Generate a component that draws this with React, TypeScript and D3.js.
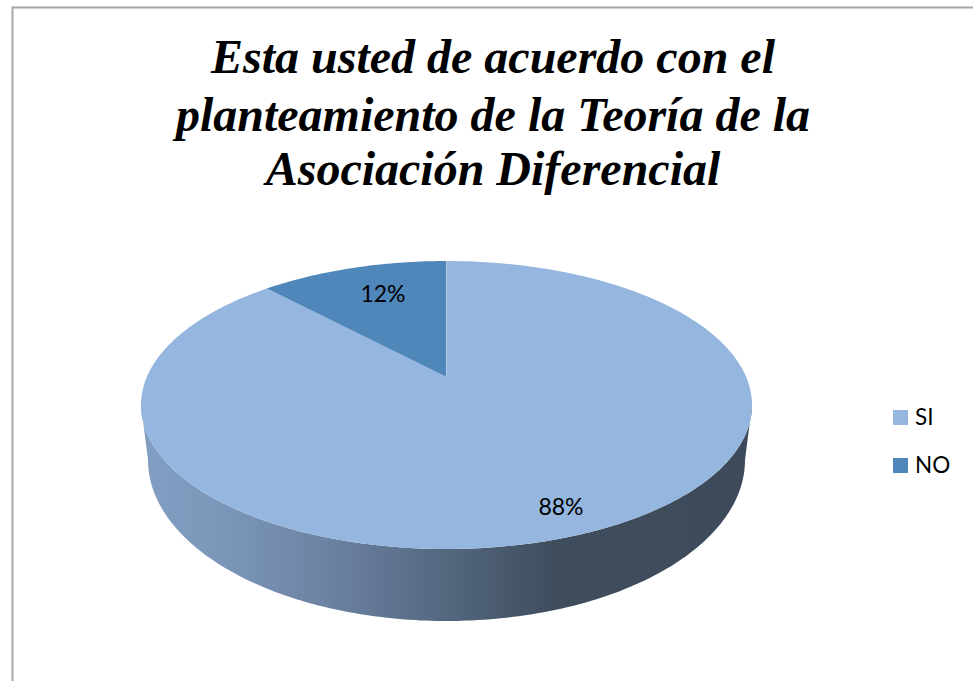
import React from "react";
import * as d3 from "d3";

const categories = ["SI", "NO"];
const values = [88, 12];
const sliceColors = ["#95b6de", "#4f87ba"];
const titleLines = [
  "Esta usted de acuerdo con el",
  "planteamiento de la Teoría de la",
  "Asociación Diferencial",
];
const sideStops: [number, string][] = [
  [0, "#829fc3"],
  [0.15, "#7a95b8"],
  [0.3, "#6d83a3"],
  [0.5, "#53677f"],
  [0.68, "#3f4d5d"],
  [1, "#3d4a59"],
];

// Perspective disc: an ellipse whose visual centre (the apex) sits above its geometric centre
const cx = 446.5;
const apexY = 377;
const topY = 261;
const bottomY = 549;
const halfWidth = 305.5;
const baseBottomY = 621;
const baseCentreY = 460;
const sideInset = 7;

const dFar = apexY - topY;
const dNear = bottomY - apexY;
const k = -(dNear - dFar) / (dNear + dFar);
const b = dFar * (1 - k);
const a = halfWidth * Math.sqrt(1 - k * k);

const project = (angle: number): [number, number] => {
  const u = Math.sin(angle);
  const v = -Math.cos(angle);
  const w = 1 + k * v;
  return [cx + (a * u) / w, apexY + (b * v) / w];
};

const pieAngles = d3
  .pie<number>()
  .sort(null)
  .startAngle(-2 * Math.PI * (values[1] / 100))
  .endAngle(2 * Math.PI * (1 - values[1] / 100))(values.slice().reverse());

const line = d3.line<[number, number]>().curve(d3.curveLinear);

const slicePath = (start: number, end: number) => {
  const n = Math.max(24, Math.ceil(((end - start) / (2 * Math.PI)) * 360));
  const pts = d3.range(n + 1).map((i) => project(start + ((end - start) * i) / n));
  return line([[cx, apexY], ...pts]) + "Z";
};

const widest = (topY + bottomY) / 2;
const ellipseRy = (bottomY - topY) / 2;

const sidePath = () => {
  const steps = d3.range(0, 181);
  const lower = steps.map((d): [number, number] => {
    const t = (d * Math.PI) / 180;
    return [
      cx + (halfWidth - sideInset) * Math.cos(t),
      baseCentreY + (baseBottomY - baseCentreY) * Math.sin(t),
    ];
  });
  const upper = steps
    .slice()
    .reverse()
    .map((d): [number, number] => {
      const t = (d * Math.PI) / 180;
      return [cx + halfWidth * Math.cos(t), widest + ellipseRy * Math.sin(t)];
    });
  return line([...lower, ...upper]) + "Z";
};

const gradX = d3.scaleLinear().domain([0, 1]).range([cx - halfWidth, cx + halfWidth]);

export default function App() {
  const [no, si] = pieAngles;
  return (
    <svg
      width={973}
      height={681}
      viewBox="0 0 973 681"
      style={{ position: "absolute", left: 0, top: 0, background: "#fff" }}
    >
      <defs>
        <linearGradient
          id="side"
          gradientUnits="userSpaceOnUse"
          x1={gradX(0)}
          x2={gradX(1)}
          y1={0}
          y2={0}
        >
          {sideStops.map(([o, c]) => (
            <stop key={o} offset={o} stopColor={c} />
          ))}
        </linearGradient>
      </defs>

      <path d="M12.5,681V7.5H973" fill="none" stroke="#a6a6a6" strokeWidth={2} />

      <g
        fontFamily="'Liberation Serif', serif"
        fontWeight="bold"
        fontStyle="italic"
        fontSize={48}
        textAnchor="middle"
        fill="#000"
      >
        {titleLines.map((t, i) => (
          <text key={t} x={493} y={[73, 131, 185][i]}>
            {t}
          </text>
        ))}
      </g>

      <path d={sidePath()} fill="url(#side)" />
      <path d={slicePath(si.startAngle, si.endAngle)} fill={sliceColors[0]} />
      <path d={slicePath(no.startAngle, no.endAngle)} fill={sliceColors[1]} />
      <path
        d={line([[cx, apexY], project(0)]) ?? ""}
        stroke="#b5cbe6"
        strokeWidth={1}
        fill="none"
      />

      <g fontFamily="Lato, 'Open Sans', sans-serif" fontSize={23} fill="#000" textAnchor="middle">
        <text x={561} y={515}>{`${values[0]}%`}</text>
        <text x={383} y={302}>{`${values[1]}%`}</text>
      </g>

      <g fontFamily="Lato, 'Open Sans', sans-serif" fontSize={22.5} fill="#000">
        {categories.map((c, i) => (
          <g key={c} transform={`translate(893,${410 + i * 48})`}>
            <rect width={15} height={15} fill={sliceColors[i]} />
            <text x={22} y={14.5}>
              {c}
            </text>
          </g>
        ))}
      </g>
    </svg>
  );
}
